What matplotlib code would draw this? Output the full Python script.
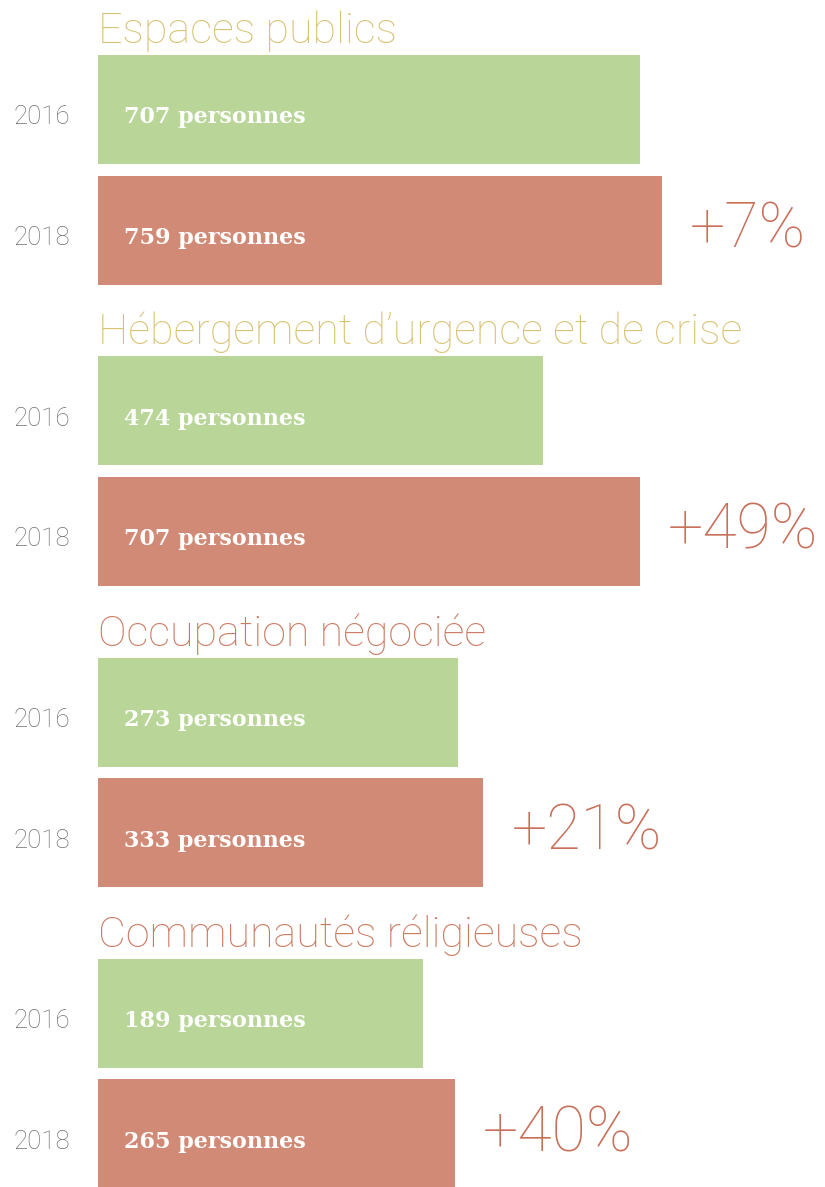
import matplotlib.pyplot as plt

# data
categories = ['Espaces publics', 'Hébergement d\u2019urgence et de crise',
              'Occupation négociée', 'Communautés réligieuses']
years = ['2016', '2018']
values_2016 = [707, 474, 273, 189]
values_2018 = [759, 707, 333, 265]
changes = ['+7%', '+49%', '+21%', '+40%']

title_colors = ['#d8c374', '#d8c374', '#cc7a62', '#cc7a62']
bar_colors = ['#b9d698', '#d18a76']
pct_color = '#c8705a'
year_color = '#707070'

BASE = 587  # bars are drawn from an offset origin, as in the original

W, H = 825, 1187
fig = plt.figure(figsize=(W / 100, H / 100), dpi=100)
ax = fig.add_axes([0, 0, 1, 1])
scale = 0.419  # px per person
ax.set_xlim(-BASE - 98 / scale, -BASE + (W - 98) / scale)
ax.set_ylim(H, 0)
ax.axis('off')

group_step = 301.3
row_step = 120.5
bar_h = 109
txt_shift = 8  # labels sit a bit below the bar centre

for g, cat in enumerate(categories):
    vals = [values_2016[g], values_2018[g]]
    y0 = 109.5 + g * group_step
    ax.text(98 / W, y0 - bar_h / 2 - 12, cat, transform=ax.get_yaxis_transform(),
            fontsize=31, family='Roboto', fontweight='light',
            color=title_colors[g], va='baseline', ha='left')
    for r, v in enumerate(vals):
        yc = y0 + r * row_step
        ax.barh(yc, v + BASE, left=-BASE, height=bar_h, color=bar_colors[r])
        ax.text(70 / W, yc + txt_shift, years[r], transform=ax.get_yaxis_transform(),
                fontsize=18.5, family='Roboto', fontweight='light',
                color=year_color, ha='right', va='center')
        ax.text(124 / W, yc + txt_shift, f'{v} personnes',
                transform=ax.get_yaxis_transform(),
                fontsize=16, family='DejaVu Serif', fontweight='bold',
                color='white', ha='left', va='center')
    ax.annotate(changes[g], (vals[1], y0 + row_step), xytext=(20, 0),
                textcoords='offset points', fontsize=45, family='Roboto',
                fontweight='light', color=pct_color, ha='left', va='center')

fig.savefig('out.png', dpi=100)
